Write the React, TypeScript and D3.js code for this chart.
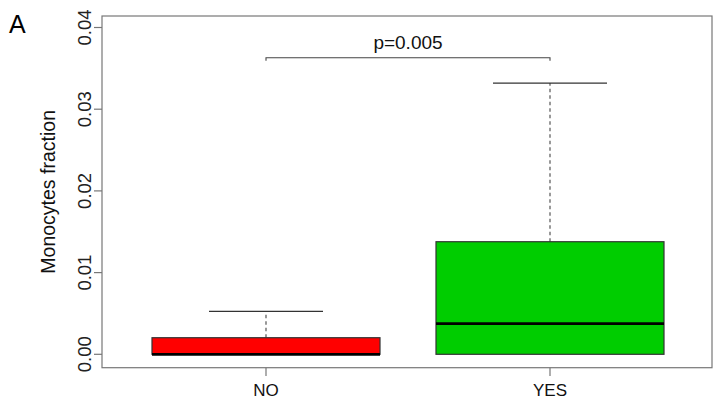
import React from "react";
import * as d3 from "d3";

const categories = ["NO", "YES"];
const lowerWhisker = [0, 0];
const q1Values = [0, 0];
const medianValues = [0, 0.00375];
const q3Values = [0.00203, 0.01378];
const upperWhisker = [0.00526, 0.0332];
const boxColors = ["#FF0000", "#00CD00"];
const yTicks = [0, 0.01, 0.02, 0.03, 0.04];
const pLabel = "p=0.005";
const bracketValue = 0.0363;
const yTitle = "Monocytes fraction";
const panelLabel = "A";

const W = 713;
const H = 401;
const frame = { left: 102, right: 712, top: 16, bottom: 367.7 };

export default function App() {
  const y = d3.scaleLinear().domain([0, 0.04]).range([354.3, 27.5]);
  const x = d3.scaleLinear().domain([1, 2]).range([266, 550]);
  const boxHalf = 114;
  const capHalf = 57;
  const fmt = d3.format(".2f");
  const font = "Liberation Sans, Arial, sans-serif";
  const data = categories.map((c, i) => ({
    c,
    lo: lowerWhisker[i],
    q1: q1Values[i],
    med: medianValues[i],
    q3: q3Values[i],
    hi: upperWhisker[i],
    color: boxColors[i],
    cx: x(i + 1),
  }));
  const yMid = (frame.top + frame.bottom) / 2;
  return (
    <svg
      width={W}
      height={H}
      style={{ position: "fixed", left: 0, top: 0, background: "#fff" }}
      fontFamily={font}
    >
      <rect x={0} y={0} width={W} height={H} fill="#fff" />
      <text x={9} y={33} fontSize={25} fill="#000">{panelLabel}</text>
      {/* frame */}
      <rect
        x={frame.left}
        y={frame.top}
        width={frame.right - frame.left}
        height={frame.bottom - frame.top}
        fill="none"
        stroke="#777"
        strokeWidth={1.2}
      />
      {/* y axis ticks */}
      {yTicks.map((t) => (
        <g key={t}>
          <line x1={94} x2={frame.left} y1={y(t)} y2={y(t)} stroke="#777" strokeWidth={1.2} />
          <text
            transform={`translate(91,${y(t)}) rotate(-90)`}
            textAnchor="middle"
            fontSize={18.5}
            fill="#222"
          >
            {fmt(t)}
          </text>
        </g>
      ))}
      <text
        transform={`translate(55,${yMid}) rotate(-90)`}
        textAnchor="middle"
        fontSize={19.5}
        fill="#111"
      >
        {yTitle}
      </text>
      {/* x ticks and labels */}
      {data.map((d) => (
        <g key={d.c}>
          <line x1={d.cx} x2={d.cx} y1={frame.bottom} y2={376} stroke="#777" strokeWidth={1.2} />
          <text x={d.cx} y={396} textAnchor="middle" fontSize={17} fill="#111">
            {d.c}
          </text>
        </g>
      ))}
      {/* boxes */}
      {data.map((d) => (
        <g key={d.c + "box"}>
          <line x1={d.cx} x2={d.cx} y1={y(d.q3)} y2={y(d.hi)} stroke="#555" strokeWidth={1.2} strokeDasharray="3.5,3" />
          <line x1={d.cx - capHalf} x2={d.cx + capHalf} y1={y(d.hi)} y2={y(d.hi)} stroke="#333" strokeWidth={1.3} />
          <line x1={d.cx} x2={d.cx} y1={y(d.q1)} y2={y(d.lo)} stroke="#555" strokeWidth={1.2} strokeDasharray="3.5,3" />
          <rect
            x={d.cx - boxHalf}
            y={y(d.q3)}
            width={boxHalf * 2}
            height={y(d.q1) - y(d.q3)}
            fill={d.color}
            stroke="#333"
            strokeWidth={1.2}
          />
          <line x1={d.cx - boxHalf} x2={d.cx + boxHalf} y1={y(d.med)} y2={y(d.med)} stroke="#000" strokeWidth={2.8} />
        </g>
      ))}
      {/* significance bracket */}
      <path
        d={`M${x(1)},${y(bracketValue) + 3}V${y(bracketValue)}H${x(2)}V${y(bracketValue) + 3}`}
        fill="none"
        stroke="#444"
        strokeWidth={1.1}
      />
      <text x={(x(1) + x(2)) / 2} y={48.5} textAnchor="middle" fontSize={19} fill="#111">
        {pLabel}
      </text>
    </svg>
  );
}
